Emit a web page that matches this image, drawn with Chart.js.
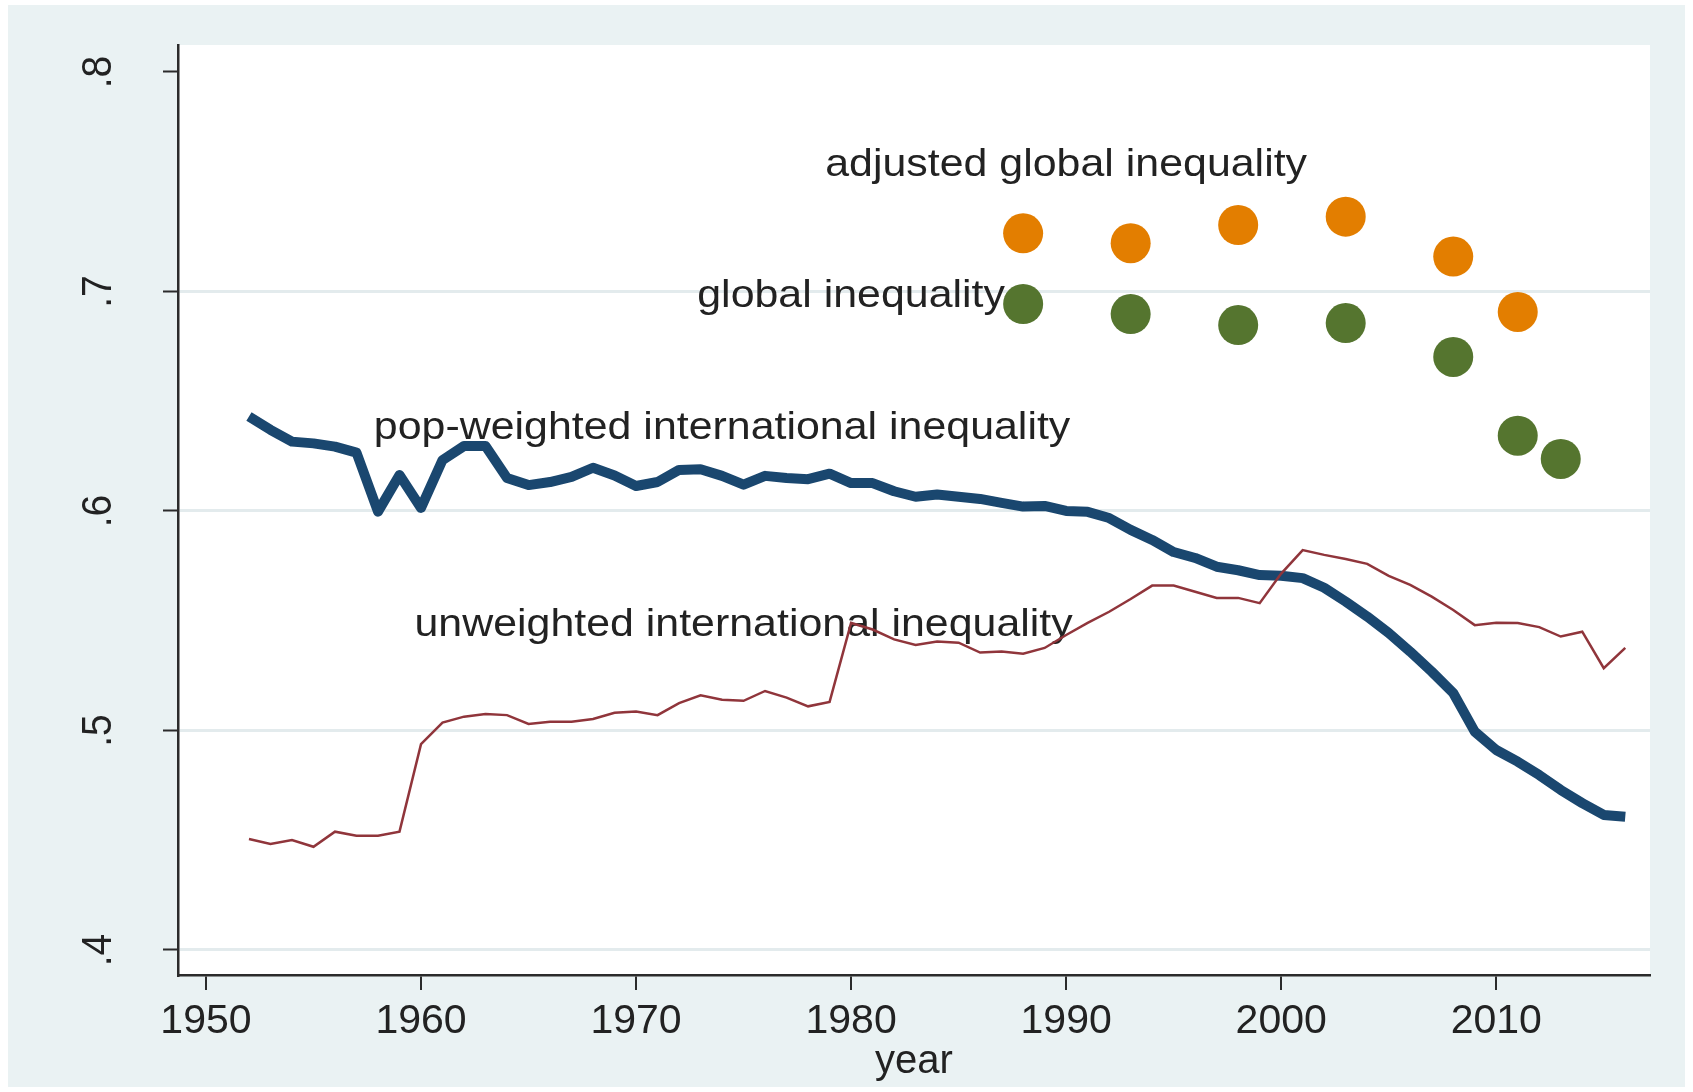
<!DOCTYPE html>
<html>
<head>
<meta charset="utf-8">
<script src="https://cdn.jsdelivr.net/npm/chart.js@4.4.1/dist/chart.umd.min.js"></script>
<style>
  html, body { margin: 0; padding: 0; background: #fff; }
  canvas { display: block; }
</style>
</head>
<body>
<canvas id="ineq" width="1693" height="1092"></canvas>
<script>
// years for the two continuous series
var years = [1952, 1953, 1954, 1955, 1956, 1957, 1958, 1959, 1960, 1961,
             1962, 1963, 1964, 1965, 1966, 1967, 1968, 1969, 1970, 1971,
             1972, 1973, 1974, 1975, 1976, 1977, 1978, 1979, 1980, 1981,
             1982, 1983, 1984, 1985, 1986, 1987, 1988, 1989, 1990, 1991,
             1992, 1993, 1994, 1995, 1996, 1997, 1998, 1999, 2000, 2001,
             2002, 2003, 2004, 2005, 2006, 2007, 2008, 2009, 2010, 2011,
             2012, 2013, 2014, 2015, 2016];

var popWeighted = [0.643, 0.637, 0.6316, 0.6308, 0.6293, 0.6266, 0.5997, 0.6164, 0.6014, 0.6232,
                   0.6296, 0.6296, 0.615, 0.6118, 0.6132, 0.6155, 0.6197, 0.6162, 0.6114, 0.6132,
                   0.6187, 0.619, 0.616, 0.612, 0.616, 0.615, 0.6145, 0.617, 0.6127, 0.6127,
                   0.609, 0.6065, 0.6075, 0.6065, 0.6055, 0.6037, 0.602, 0.6023, 0.600, 0.5996,
                   0.5968, 0.5914, 0.5868, 0.5813, 0.5786, 0.5746, 0.573, 0.5708, 0.5705, 0.5694,
                   0.565, 0.5587, 0.5519, 0.5444, 0.5359, 0.5268, 0.5171, 0.4995, 0.4911, 0.4858,
                   0.4797, 0.4729, 0.4669, 0.4615, 0.4607];

var unweighted = [0.4506, 0.4483, 0.4501, 0.447, 0.4539, 0.452, 0.452, 0.4539, 0.4938, 0.5036,
                  0.5063, 0.5075, 0.507, 0.503, 0.504, 0.504, 0.5052, 0.5081, 0.5086, 0.507,
                  0.5125, 0.516, 0.514, 0.5135, 0.518, 0.515, 0.511, 0.513, 0.549, 0.546,
                  0.5415, 0.539, 0.5405, 0.540, 0.5355, 0.536, 0.535, 0.5376, 0.5435, 0.549,
                  0.5541, 0.5599, 0.566, 0.566, 0.5632, 0.5604, 0.5604, 0.558, 0.5715, 0.5822,
                  0.580, 0.5781, 0.5759, 0.5704, 0.5663, 0.561, 0.5549, 0.548, 0.5491, 0.549,
                  0.5471, 0.5428, 0.545, 0.5284, 0.5376];

// survey-based estimates (dots)
var adjustedYears = [1988, 1993, 1998, 2003, 2008, 2011];
var adjustedGlobal = [0.7265, 0.722, 0.7303, 0.7341, 0.7159, 0.6907];
var globalYears = [1988, 1993, 1998, 2003, 2008, 2011, 2013];
var globalIneq = [0.6943, 0.6897, 0.6847, 0.6856, 0.6702, 0.6343, 0.6237];

var xTicks = [1950, 1960, 1970, 1980, 1990, 2000, 2010];
var yTicks = [0.4, 0.5, 0.6, 0.7, 0.8];
var yTickLabels = ['.4', '.5', '.6', '.7', '.8'];

// text labels placed in data coordinates (year, value)
var labelTexts = ['adjusted global inequality', 'global inequality',
                  'pop-weighted international inequality', 'unweighted international inequality'];
var labelYears = [1990, 1980, 1974, 1975];
var labelValues = [0.76, 0.70, 0.64, 0.55];

var FONT = '"Liberation Sans", Arial, Helvetica, sans-serif';
var TEXT = '#222222';
var AXIS = '#2b2b2b';

function pairs(xs, ys) {
    return xs.map(function(x, i) { return { x: x, y: ys[i] }; });
}

// stata-like backdrop: bluish gray graph region, white plot region
var backdrop = {
    id: 'backdrop',
    beforeDraw: function(chart) {
        var c = chart.ctx, a = chart.chartArea;
        c.save();
        c.fillStyle = '#ffffff';
        c.fillRect(0, 0, chart.width, chart.height);
        c.fillStyle = '#eaf2f3';
        c.fillRect(8, 5, chart.width - 16, chart.height - 10);
        c.fillStyle = '#ffffff';
        c.fillRect(a.left, a.top, a.right - a.left, a.bottom - a.top);
        c.restore();
    }
};

// rotated y tick labels and in-plot text labels
var texts = {
    id: 'texts',
    beforeDatasetsDraw: function(chart) {
        var c = chart.ctx, xs = chart.scales.x, ys = chart.scales.y;
        c.save();
        c.fillStyle = TEXT;
        c.font = '39px ' + FONT;
        c.textAlign = 'center';
        c.textBaseline = 'middle';
        labelTexts.forEach(function(t, i) {
            c.save();
            c.translate(xs.getPixelForValue(labelYears[i]), ys.getPixelForValue(labelValues[i]) + 5);
            c.scale(1.1, 1);
            c.fillText(t, 0, 0);
            c.restore();
        });
        c.restore();
    },
    afterDraw: function(chart) {
        var c = chart.ctx, ys = chart.scales.y;
        c.save();
        c.fillStyle = TEXT;
        c.font = '39px ' + FONT;
        c.textAlign = 'center';
        c.textBaseline = 'alphabetic';
        yTicks.forEach(function(v, i) {
            c.save();
            c.translate(111, ys.getPixelForValue(v));
            c.scale(1.1, 1);
            c.rotate(-Math.PI / 2);
            c.fillText(yTickLabels[i], 0, 0);
            c.restore();
        });
        c.restore();
    }
};

new Chart(document.getElementById('ineq').getContext('2d'), {
    type: 'line',
    data: {
        datasets: [
            {
                label: 'unweighted international inequality',
                data: pairs(years, unweighted),
                borderColor: '#90353b',
                borderWidth: 2.5,
                pointRadius: 0,
                tension: 0,
                order: 0
            },
            {
                label: 'pop-weighted international inequality',
                data: pairs(years, popWeighted),
                borderColor: '#1a476f',
                borderWidth: 10,
                borderJoinStyle: 'round',
                borderCapStyle: 'butt',
                pointRadius: 0,
                tension: 0,
                order: 1
            },
            {
                label: 'adjusted global inequality',
                data: pairs(adjustedYears, adjustedGlobal),
                showLine: false,
                pointRadius: 20,
                pointBorderWidth: 0,
                pointBackgroundColor: '#e37e00',
                pointBorderColor: '#e37e00',
                order: 2
            },
            {
                label: 'global inequality',
                data: pairs(globalYears, globalIneq),
                showLine: false,
                pointRadius: 20,
                pointBorderWidth: 0,
                pointBackgroundColor: '#55752f',
                pointBorderColor: '#55752f',
                order: 2
            }
        ]
    },
    options: {
        responsive: false,
        animation: false,
        devicePixelRatio: 1,
        layout: { padding: { top: 45, right: 43, left: 0, bottom: 0 } },
        plugins: {
            legend: { display: false },
            tooltip: { enabled: false }
        },
        scales: {
            x: {
                type: 'linear',
                min: 1948.7,
                max: 2017.15,
                afterBuildTicks: function(s) { s.ticks = xTicks.map(function(v) { return { value: v }; }); },
                afterFit: function(s) { s.height = 117; },
                ticks: {
                    color: TEXT,
                    font: { family: FONT, size: 41 },
                    padding: 7,
                    maxRotation: 0,
                    callback: function(v) { return String(v); }
                },
                grid: {
                    drawOnChartArea: false,
                    color: AXIS,
                    tickLength: 15,
                    lineWidth: 2
                },
                border: { color: AXIS, width: 2.5 },
                title: {
                    display: true,
                    text: 'year',
                    color: TEXT,
                    font: { family: FONT, size: 40 },
                    padding: { top: 0, bottom: 6 }
                }
            },
            y: {
                min: 0.3886,
                max: 0.8123,
                afterBuildTicks: function(s) { s.ticks = yTicks.map(function(v) { return { value: v }; }); },
                afterFit: function(s) { s.width = 178; },
                ticks: { display: false },
                grid: {
                    color: function(ctx) { return ctx.tick && ctx.tick.value >= 0.8 ? 'rgba(0,0,0,0)' : '#e3ebed'; },
                    lineWidth: 3,
                    tickColor: AXIS,
                    tickWidth: 2,
                    tickLength: 15
                },
                border: { color: AXIS, width: 2.5 }
            }
        }
    },
    plugins: [backdrop, texts]
});
</script>
</body>
</html>
